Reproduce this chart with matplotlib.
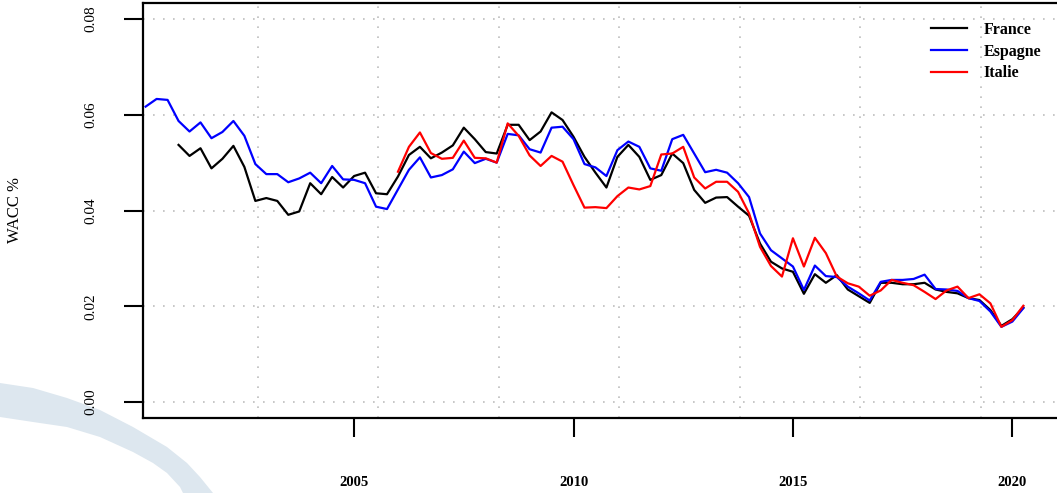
import numpy as np
import matplotlib
matplotlib.use("Agg")
import matplotlib.pyplot as plt
from matplotlib.patches import Polygon

# quarterly dates, Q2 2000 -> Q2 2020
quarters = np.arange(2000.25, 2020.26, 0.25)

espagne = [
    0.0617, 0.0633, 0.0631, 0.0587, 0.0565, 0.0584, 0.0551, 0.0564, 0.0587, 0.0556,
    0.0497, 0.0476, 0.0476, 0.0459, 0.0467, 0.0479, 0.0457, 0.0493, 0.0465, 0.0464,
    0.0457, 0.0408, 0.0403, 0.0444, 0.0485, 0.0511, 0.0469, 0.0474, 0.0486, 0.0523,
    0.0499, 0.0508, 0.0500, 0.0560, 0.0557, 0.0528, 0.0521, 0.0573, 0.0575, 0.0549,
    0.0497, 0.0490, 0.0472, 0.0526, 0.0544, 0.0533, 0.0488, 0.0483, 0.0549, 0.0558,
    0.0519, 0.0480, 0.0485, 0.0479, 0.0457, 0.0428, 0.0352, 0.0317, 0.0300, 0.0283,
    0.0234, 0.0285, 0.0263, 0.0261, 0.0241, 0.0227, 0.0212, 0.0251, 0.0255, 0.0255,
    0.0257, 0.0266, 0.0236, 0.0235, 0.0232, 0.0217, 0.0211, 0.0189, 0.0157, 0.0168,
    0.0196,
]

france = [np.nan] * 3 + [
    0.0537, 0.0514, 0.0530, 0.0488, 0.0508, 0.0535, 0.0491,
    0.0420, 0.0426, 0.0420, 0.0391, 0.0398, 0.0457, 0.0434, 0.0470, 0.0448, 0.0472,
    0.0479, 0.0436, 0.0434, 0.0471, 0.0516, 0.0533, 0.0509, 0.0521, 0.0536, 0.0573,
    0.0549, 0.0522, 0.0519, 0.0579, 0.0579, 0.0547, 0.0565, 0.0605, 0.0589, 0.0554,
    0.0512, 0.0479, 0.0448, 0.0512, 0.0537, 0.0512, 0.0464, 0.0474, 0.0519, 0.0499,
    0.0443, 0.0416, 0.0427, 0.0428, 0.0408, 0.0389, 0.0331, 0.0293, 0.0279, 0.0272,
    0.0226, 0.0267, 0.0249, 0.0265, 0.0235, 0.0221, 0.0207, 0.0249, 0.0249, 0.0246,
    0.0246, 0.0249, 0.0235, 0.0230, 0.0227, 0.0217, 0.0213, 0.0192, 0.0159, 0.0173,
    0.0197,
]

italie = [np.nan] * 23 + [
    0.0481, 0.0533, 0.0563, 0.0520, 0.0508, 0.0510, 0.0546,
    0.0510, 0.0509, 0.0500, 0.0582, 0.0556, 0.0515, 0.0493, 0.0514, 0.0502, 0.0453,
    0.0406, 0.0407, 0.0405, 0.0430, 0.0448, 0.0444, 0.0451, 0.0517, 0.0519, 0.0533,
    0.0469, 0.0446, 0.0460, 0.0460, 0.0439, 0.0394, 0.0324, 0.0284, 0.0262, 0.0342,
    0.0283, 0.0343, 0.0311, 0.0262, 0.0248, 0.0241, 0.0222, 0.0233, 0.0255, 0.0249,
    0.0244, 0.0230, 0.0215, 0.0233, 0.0241, 0.0217, 0.0225, 0.0206, 0.0157, 0.0171,
    0.0201,
]

series = [("France", france, "black"), ("Espagne", espagne, "blue"), ("Italie", italie, "red")]
year_ticks = [2005, 2010, 2015, 2020]
y_ticks = [0.00, 0.02, 0.04, 0.06, 0.08]

W, H = 1057, 493
fig = plt.figure(figsize=(W / 100, H / 100), dpi=100)

# light blue swoosh in the background (bottom left)
swoosh = [(0, 383), (33, 388), (67, 398), (100, 410), (133, 427), (167, 447), (187, 463),
          (200, 477), (213, 493), (183, 493), (180, 487), (167, 473), (153, 463),
          (133, 452), (100, 437), (67, 427), (33, 422), (0, 417)]
fig.add_artist(Polygon([(x / W, 1 - y / H) for x, y in swoosh], closed=True,
                       transform=fig.transFigure, facecolor="#dde7ef", edgecolor="none", zorder=0))

ax = fig.add_axes([143 / W, (H - 418) / H, (1058 - 143) / W, (418 - 3) / H])
ax.set_zorder(1)

for name, vals, col in series:
    ax.plot(quarters, vals, color=col, lw=1.6, label=name, zorder=3)

ax.set_xlim(2000.19, 2021.04)
ax.set_ylim(-0.00334, 0.08334)

# dotted grid
for g in 2002.81 + 2.745 * np.arange(7):
    ax.axvline(g, color="#bdbdbd", lw=1.2, ls=(0, (1, 5)), zorder=1)
for g in y_ticks:
    ax.axhline(g, color="#bdbdbd", lw=1.2, ls=(0, (1, 5)), zorder=1)

ax.set_xticks(year_ticks)
ax.set_xticklabels([str(y) for y in year_ticks], family="Liberation Serif",
                   fontweight="bold", fontsize=10.5)
ax.set_yticks(y_ticks)
ax.set_yticklabels(["%.2f" % v for v in y_ticks], family="Liberation Serif",
                   fontsize=11, rotation=90, va="center")
ax.tick_params(axis="x", length=14, width=1.5, pad=28)
ax.tick_params(axis="y", length=14, width=1.5, pad=19)

for s in ["left", "top", "bottom"]:
    ax.spines[s].set_linewidth(1.6)
ax.spines["right"].set_visible(False)

fig.text(15 / W, 1 - 210 / H, "WACC %", rotation=90, ha="center", va="center",
         family="Liberation Serif", fontsize=12)

ax.legend(loc="upper right", bbox_to_anchor=(1049 / W, 1 - 14 / H),
          bbox_transform=fig.transFigure, frameon=False, borderpad=0,
          handlelength=2.3, handletextpad=1.0, labelspacing=0.35,
          prop={"family": "Liberation Serif", "weight": "bold", "size": 11.5})

fig.savefig("out.png", dpi=100)
